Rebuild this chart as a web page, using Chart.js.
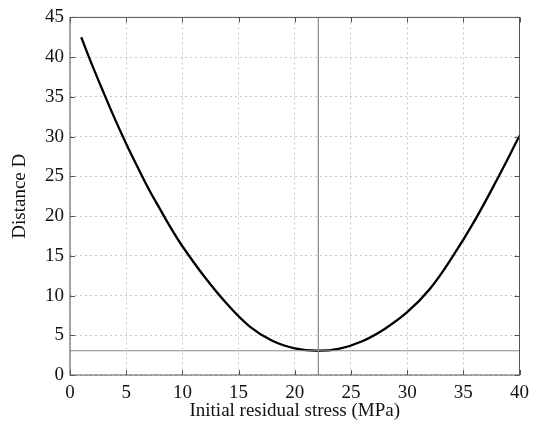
<!DOCTYPE html>
<html>
<head>
<meta charset="utf-8">
<script src="https://cdn.jsdelivr.net/npm/chart.js@4/dist/chart.umd.min.js"></script>
<style>
  html, body { margin: 0; padding: 0; background: #fff; }
  #wrap { width: 536px; height: 428px; }
</style>
</head>
<body>
<div id="wrap"><canvas id="chart"></canvas></div>
<script>
// values
const stress = [1, 2, 3, 4, 5, 6, 7, 8, 9, 10, 12, 14, 16, 18, 20, 22, 24, 26, 28, 30, 32, 34, 36, 38, 40];
const distance = [42.5, 38.9, 35.5, 32.2, 29.1, 26.2, 23.4, 20.9, 18.45, 16.2, 12.3, 8.9, 6.1, 4.3, 3.35, 3.05, 3.33, 4.25, 5.8, 7.9, 10.8, 14.8, 19.4, 24.6, 30.1];
const bestStress = 22.1;
const minDistance = 3.05;
const xTicks = [0, 5, 10, 15, 20, 25, 30, 35, 40];
const yTicks = [0, 5, 10, 15, 20, 25, 30, 35, 40, 45];

const serif = "'Liberation Serif', 'DejaVu Serif', serif";

// frame + inward ticks on all four sides
const framePlugin = {
    id: 'frame',
    afterDraw(chart) {
        const { ctx, chartArea: a, scales } = chart;
        ctx.save();
        ctx.strokeStyle = '#555';
        ctx.lineWidth = 1;
        ctx.strokeRect(a.left, a.top, a.right - a.left, a.bottom - a.top);
        ctx.beginPath();
        xTicks.forEach(v => {
            const px = Math.round(scales.x.getPixelForValue(v)) + 0.5;
            ctx.moveTo(px, a.bottom); ctx.lineTo(px, a.bottom - 5);
            ctx.moveTo(px, a.top); ctx.lineTo(px, a.top + 5);
        });
        yTicks.forEach(v => {
            const py = Math.round(scales.y.getPixelForValue(v)) + 0.5;
            ctx.moveTo(a.left, py); ctx.lineTo(a.left + 5, py);
            ctx.moveTo(a.right, py); ctx.lineTo(a.right - 5, py);
        });
        ctx.stroke();
        ctx.restore();
    }
};

new Chart(document.getElementById('chart'), {
    type: 'scatter',
    data: {
        datasets: [
            {
                label: 'vertical',
                data: [{ x: bestStress, y: 0 }, { x: bestStress, y: 45 }],
                showLine: true,
                borderColor: '#8a8a8a',
                borderWidth: 1.2,
                pointRadius: 0
            },
            {
                label: 'horizontal',
                data: [{ x: 0, y: minDistance }, { x: 40, y: minDistance }],
                showLine: true,
                borderColor: '#8a8a8a',
                borderWidth: 1.2,
                pointRadius: 0
            },
            {
                label: 'Distance D',
                data: stress.map((s, i) => ({ x: s, y: distance[i] })),
                showLine: true,
                borderColor: '#000',
                borderWidth: 2.3,
                pointRadius: 0,
                tension: 0.4
            }
        ]
    },
    options: {
        responsive: true,
        maintainAspectRatio: false,
        animation: false,
        layout: { padding: { left: 0, right: 11, top: 16, bottom: 0 } },
        plugins: {
            legend: { display: false },
            tooltip: { enabled: false }
        },
        scales: {
            x: {
                type: 'linear',
                min: 0,
                max: 40,
                afterFit: s => { s.height = 53; },
                afterBuildTicks: s => { s.ticks = xTicks.map(v => ({ value: v })); },
                grid: { color: '#c8c8c8', lineWidth: 1, drawTicks: false },
                border: { display: false, dash: [2, 3] },
                ticks: { color: '#111', padding: 7, font: { family: serif, size: 19 } },
                title: {
                    display: true,
                    text: 'Initial residual stress (MPa)',
                    color: '#111',
                    padding: { top: 0, bottom: 6 },
                    font: { family: serif, size: 19 }
                }
            },
            y: {
                type: 'linear',
                min: 0,
                max: 45,
                afterFit: s => { s.width = 70; },
                afterBuildTicks: s => { s.ticks = yTicks.map(v => ({ value: v })); },
                grid: { color: '#c8c8c8', lineWidth: 1, drawTicks: false },
                border: { display: false, dash: [2, 3] },
                ticks: { color: '#111', padding: 6, font: { family: serif, size: 19 } },
                title: {
                    display: true,
                    text: 'Distance D',
                    color: '#111',
                    padding: { top: 9, bottom: 0 },
                    font: { family: serif, size: 19 }
                }
            }
        }
    },
    plugins: [framePlugin]
});
</script>
</body>
</html>
